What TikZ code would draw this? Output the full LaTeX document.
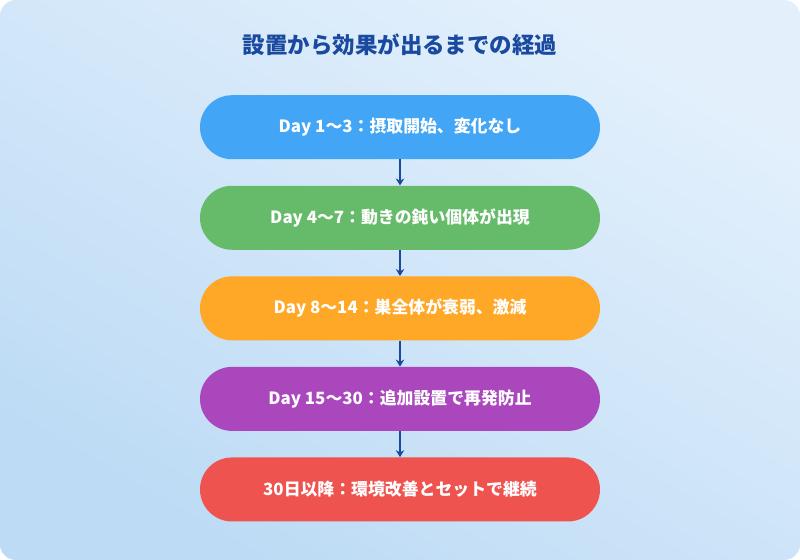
\documentclass[tikz,border=0pt]{standalone}
\usepackage{fontspec}
\setmainfont{Noto Sans CJK JP}
\usetikzlibrary{positioning,arrows.meta}
\definecolor{bgtop}{HTML}{E3F0FC}
\definecolor{bgbot}{HTML}{BDDBF5}
\definecolor{titleblue}{HTML}{1A4AA0}
\definecolor{stepA}{HTML}{42A5F5}
\definecolor{stepB}{HTML}{66BB6A}
\definecolor{stepC}{HTML}{FFA726}
\definecolor{stepD}{HTML}{AB47BC}
\definecolor{stepE}{HTML}{EF5350}

\begin{document}
\begin{tikzpicture}[phase/.style={rectangle,rounded corners=0.8cm,minimum width=10cm,minimum height=1.6cm,text=white,font=\bfseries\fontsize{12}{14}\selectfont},
  link/.style={draw=titleblue,thick,-{Stealth[length=5pt,width=6pt]}}]
  \shade[rounded corners=0.4cm,top color=bgtop,bottom color=bgbot,shading angle=-30] (0,0) rectangle (20,-14);
  \useasboundingbox (0,0) rectangle (20,-14);

  \node[text=titleblue,font=\bfseries\fontsize{16}{18}\selectfont] (title) at (10,-1.12) {設置から効果が出るまでの経過};

  \node[phase,fill=stepA] (day1) at (10,-3.18) {Day 1〜3：摂取開始、変化なし};
  \node[phase,fill=stepB,below=0.65cm of day1] (day4) {Day 4〜7：動きの鈍い個体が出現};
  \node[phase,fill=stepC,below=0.65cm of day4] (day8) {Day 8〜14：巣全体が衰弱、激減};
  \node[phase,fill=stepD,below=0.65cm of day8] (day15) {Day 15〜30：追加設置で再発防止};
  \node[phase,fill=stepE,below=0.65cm of day15] (day30) {30日以降：環境改善とセットで継続};

  \draw[link] (day1) -- (day4);
  \draw[link] (day4) -- (day8);
  \draw[link] (day8) -- (day15);
  \draw[link] (day15) -- (day30);
\end{tikzpicture}
\end{document}
